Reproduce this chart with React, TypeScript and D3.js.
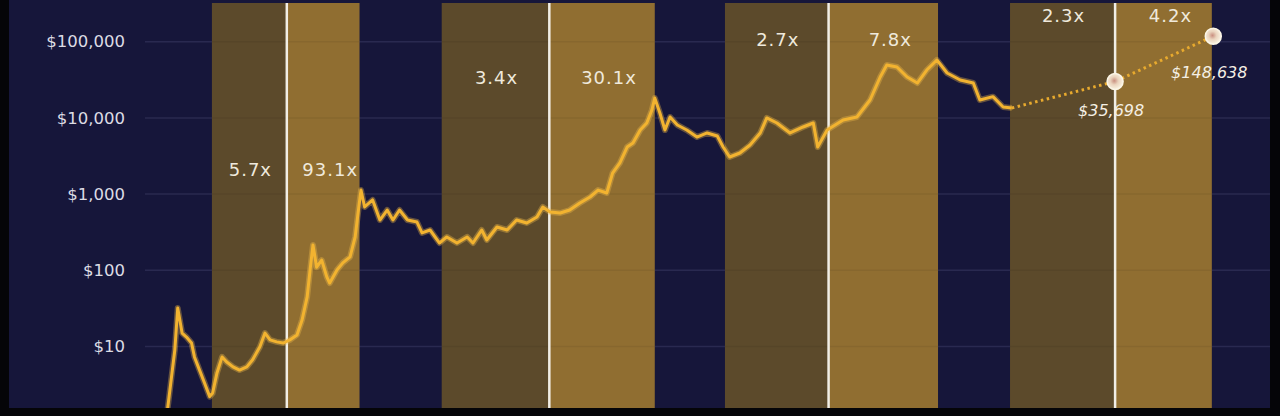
import React, { useEffect, useRef } from "react";
import * as d3 from "d3";

// price history: [decimal year, USD]
const priceHistory: [number, number][] = [
  [2011.27, 1.5], [2011.37, 9.0], [2011.41, 32], [2011.47, 15.0], [2011.53, 13.3],
  [2011.6, 11.1], [2011.64, 7.3], [2011.71, 4.9], [2011.78, 3.3], [2011.85, 2.2],
  [2011.89, 2.45], [2011.95, 4.5], [2012.02, 7.3], [2012.08, 6.3], [2012.17, 5.4],
  [2012.26, 4.9], [2012.36, 5.4], [2012.44, 6.7], [2012.54, 9.9], [2012.61, 15.0],
  [2012.68, 12.2], [2012.77, 11.5], [2012.86, 11.1], [2012.95, 12.2], [2013.05, 14.2],
  [2013.12, 22.3], [2013.19, 44.7], [2013.23, 101], [2013.27, 215], [2013.32, 110],
  [2013.39, 136], [2013.46, 82], [2013.5, 68], [2013.6, 101], [2013.68, 125],
  [2013.78, 150], [2013.85, 274], [2013.89, 565], [2013.93, 1130], [2013.98, 678],
  [2014.09, 838], [2014.19, 457], [2014.29, 618], [2014.37, 457], [2014.46, 618],
  [2014.57, 457], [2014.7, 430], [2014.77, 309], [2014.88, 338], [2015.01, 228],
  [2015.11, 274], [2015.25, 228], [2015.39, 274], [2015.47, 228], [2015.59, 338],
  [2015.66, 250], [2015.8, 370], [2015.94, 338], [2016.07, 457], [2016.21, 418],
  [2016.35, 500], [2016.43, 678], [2016.53, 582], [2016.67, 565], [2016.8, 618],
  [2016.94, 764], [2017.08, 916], [2017.19, 1130], [2017.31, 1033], [2017.39, 1890],
  [2017.49, 2560], [2017.59, 4150], [2017.67, 4690], [2017.77, 6930], [2017.86, 8570],
  [2017.93, 12700], [2017.97, 18240], [2018.04, 11600], [2018.11, 6930], [2018.18, 10280],
  [2018.28, 8070], [2018.41, 6930], [2018.55, 5610], [2018.69, 6340], [2018.83, 5790],
  [2018.91, 4150], [2019.0, 3070], [2019.14, 3460], [2019.28, 4410], [2019.42, 6340],
  [2019.51, 9980], [2019.65, 8570], [2019.83, 6340], [2020.01, 7600], [2020.15, 8570],
  [2020.21, 4150], [2020.34, 6930], [2020.56, 9400], [2020.75, 10280], [2020.93, 17180],
  [2021.07, 34400], [2021.16, 49400], [2021.3, 46600], [2021.44, 34400], [2021.58, 28700],
  [2021.71, 42500], [2021.85, 57500], [2021.99, 38800], [2022.17, 31400], [2022.35, 28700],
  [2022.44, 17180], [2022.62, 19000], [2022.76, 13900], [2022.88, 13500],
];

// dotted projection from the last price to the two marked targets
const projection: [number, number][] = [
  [2022.88, 13500], [2024.3, 30000], [2025.65, 118000],
];
const projectionLabels = ["$35,698", "$148,638"];

// halving cycles: pre-halving band start, halving date, post-halving band end
const cycleStart = [2011.88, 2015.04, 2018.935, 2022.855];
const halvings = [2012.91, 2016.52, 2020.36, 2024.3];
const cycleEnd = [2013.91, 2017.97, 2021.865, 2025.63];
const preLabels = ["5.7x", "3.4x", "2.7x", "2.3x"];
const postLabels = ["93.1x", "30.1x", "7.8x", "4.2x"];

const yTicks = [10, 100, 1000, 10000, 100000];

const W = 1280;
const H = 416;

export default function App() {
  const svgRef = useRef<SVGSVGElement | null>(null);

  useEffect(() => {
    if (!svgRef.current) return;
    const svg = d3.select(svgRef.current);
    svg.selectAll("*").remove();

    const left = 145;
    const right = 1270;
    const top = 3;
    const bottom = 408;

    const x = d3.scaleLinear().domain([2010.96, 2026.43]).range([left, right]);
    const y = d3.scaleLog().domain([1, 100000]).range([422.7, 41.7]);

    // black photo frame + navy chart background
    svg.append("rect").attr("width", W).attr("height", H).attr("fill", "#050508");
    svg
      .append("rect")
      .attr("x", 9)
      .attr("y", top - 3)
      .attr("width", right - 9)
      .attr("height", bottom - top + 3)
      .attr("fill", "#16163a");

    const defs = svg.append("defs");
    defs
      .append("clipPath")
      .attr("id", "plot")
      .append("rect")
      .attr("x", left)
      .attr("y", top)
      .attr("width", right - left)
      .attr("height", bottom - top);

    const grad = defs
      .append("radialGradient")
      .attr("id", "marker")
      .attr("cx", "45%")
      .attr("cy", "45%")
      .attr("r", "55%");
    grad.append("stop").attr("offset", "0%").attr("stop-color", "#c98f80");
    grad.append("stop").attr("offset", "45%").attr("stop-color", "#ead3bd");
    grad.append("stop").attr("offset", "100%").attr("stop-color", "#faf3e2");

    // gridlines
    svg
      .append("g")
      .selectAll("line")
      .data(yTicks)
      .join("line")
      .attr("x1", left)
      .attr("x2", right)
      .attr("y1", (d) => y(d))
      .attr("y2", (d) => y(d))
      .attr("stroke", "#2c2c55")
      .attr("stroke-width", 1.5);

    // y labels
    svg
      .append("g")
      .selectAll("text")
      .data(yTicks)
      .join("text")
      .attr("x", 125)
      .attr("y", (d) => y(d))
      .attr("dy", "0.35em")
      .attr("text-anchor", "end")
      .attr("fill", "#dcdce4")
      .style("font-family", "DejaVu Sans, sans-serif")
      .style("font-size", "16.5px")
      .text((d) => "$" + d3.format(",")(d));

    // cycle bands
    const bands = svg.append("g");
    halvings.forEach((h, i) => {
      bands
        .append("rect")
        .attr("x", x(cycleStart[i]))
        .attr("y", top)
        .attr("width", x(h) - x(cycleStart[i]))
        .attr("height", bottom - top)
        .attr("fill", "#5c4a2b");
      bands
        .append("rect")
        .attr("x", x(h))
        .attr("y", top)
        .attr("width", x(cycleEnd[i]) - x(h))
        .attr("height", bottom - top)
        .attr("fill", "#906e31");
    });

    // faint gridlines across the bands
    svg
      .append("g")
      .selectAll("line")
      .data(yTicks)
      .join("line")
      .attr("x1", left)
      .attr("x2", right)
      .attr("y1", (d) => y(d))
      .attr("y2", (d) => y(d))
      .attr("stroke", "#000")
      .attr("stroke-opacity", 0.06)
      .attr("stroke-width", 1.5);

    // halving lines
    svg
      .append("g")
      .selectAll("line")
      .data(halvings)
      .join("line")
      .attr("x1", (d) => x(d))
      .attr("x2", (d) => x(d))
      .attr("y1", top)
      .attr("y2", bottom)
      .attr("stroke", "#f1eee6")
      .attr("stroke-width", 2.5);

    const plot = svg.append("g").attr("clip-path", "url(#plot)");

    const line = d3
      .line<[number, number]>()
      .x((d) => x(d[0]))
      .y((d) => y(d[1]));

    // glow + price line
    plot
      .append("path")
      .datum(priceHistory)
      .attr("fill", "none")
      .attr("stroke", "#f7c04a")
      .attr("stroke-opacity", 0.35)
      .attr("stroke-width", 6)
      .attr("stroke-linejoin", "round")
      .attr("d", line);
    plot
      .append("path")
      .datum(priceHistory)
      .attr("fill", "none")
      .attr("stroke", "#f2b330")
      .attr("stroke-width", 3)
      .attr("stroke-linejoin", "round")
      .attr("d", line);

    // projection
    plot
      .append("path")
      .datum(projection)
      .attr("fill", "none")
      .attr("stroke", "#e8aa2e")
      .attr("stroke-width", 3)
      .attr("stroke-dasharray", "2.5,3.5")
      .attr("d", line);

    const targets = projection.slice(1);
    svg
      .append("g")
      .selectAll("circle")
      .data(targets)
      .join("circle")
      .attr("cx", (d) => x(d[0]))
      .attr("cy", (d) => y(d[1]))
      .attr("r", 8)
      .attr("fill", "url(#marker)")
      .attr("stroke", "#fbf5e6")
      .attr("stroke-width", 1.5);

    svg
      .append("g")
      .selectAll("text")
      .data(targets)
      .join("text")
      .attr("x", (d) => x(d[0]) - 4)
      .attr("y", (d, i) => y(d[1]) + (i === 0 ? 34 : 42))
      .attr("text-anchor", "middle")
      .attr("fill", "#f4efe4")
      .style("font-family", "DejaVu Sans, sans-serif")
      .style("font-style", "italic")
      .style("font-size", "16px")
      .text((d, i) => projectionLabels[i]);

    // cycle multiplier labels, placed above each cycle's peak
    const allPoints = priceHistory.concat(projection);
    const labels = svg.append("g");
    halvings.forEach((h, i) => {
      const peak =
        d3.max(
          allPoints.filter((p) => p[0] >= cycleStart[i] && p[0] <= cycleEnd[i] + 0.05),
          (p) => p[1]
        ) || 1;
      const ly = Math.max(y(peak) - 14, 22);
      const style = (t: d3.Selection<SVGTextElement, unknown, null, undefined>) =>
        t
          .attr("y", ly)
          .attr("text-anchor", "middle")
          .attr("fill", "#efe9dc")
          .style("font-family", "DejaVu Sans, sans-serif")
          .style("font-size", "18px")
          .style("letter-spacing", "1px");
      labels
        .append("text")
        .attr("x", (x(cycleStart[i]) + x(h)) / 2 + 1)
        .call(style)
        .text(preLabels[i]);
      labels
        .append("text")
        .attr("x", (x(h) + x(cycleEnd[i])) / 2 + 7)
        .call(style)
        .text(postLabels[i]);
    });
  }, []);

  return (
    <svg
      ref={svgRef}
      width={W}
      height={H}
      style={{ position: "absolute", left: 0, top: 0, display: "block" }}
    />
  );
}
